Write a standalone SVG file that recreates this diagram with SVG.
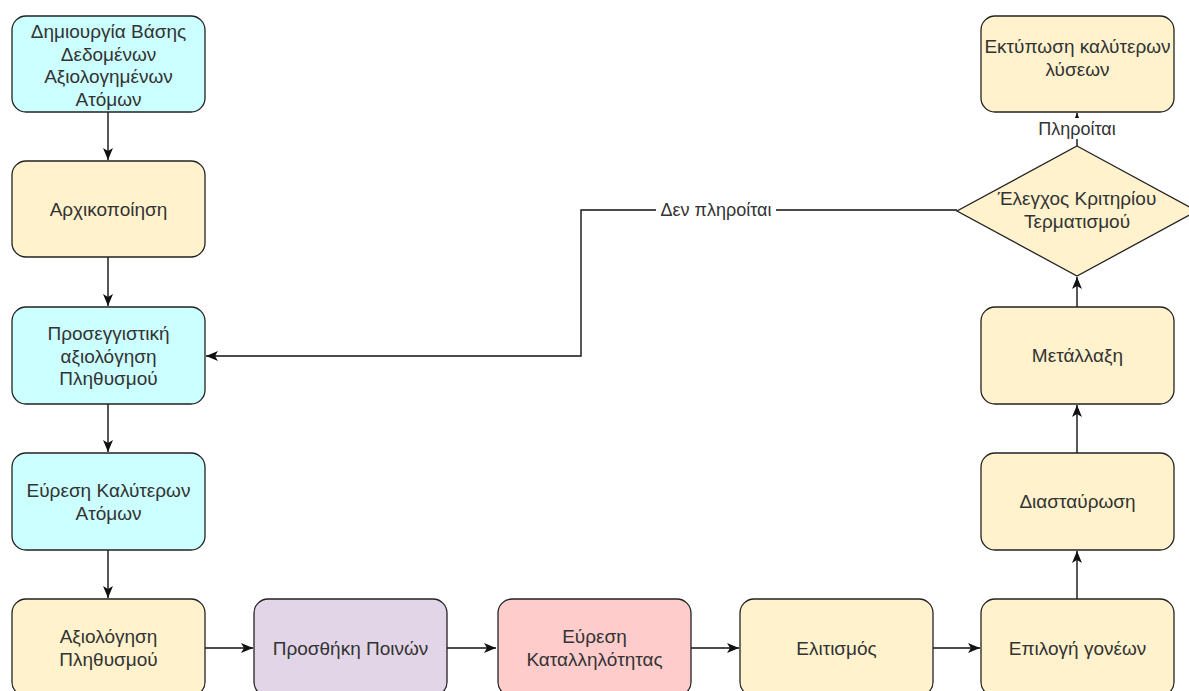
<svg xmlns="http://www.w3.org/2000/svg" width="1189" height="691" viewBox="0 0 1189 691">
  <style>
    .box { stroke: #222; stroke-width: 1.3; }
    .cyan { fill: #ccffff; }
    .yellow { fill: #fff2cc; }
    .purple { fill: #e1d5e7; }
    .pink { fill: #ffcccc; }
    .lbl { font-family: "Liberation Sans", Arial, sans-serif; font-size: 19px; fill: #333333; text-anchor: middle; }
    .elbl { font-family: "Liberation Sans", Arial, sans-serif; font-size: 18px; fill: #333333; text-anchor: middle; }
    .edge { fill: none; stroke: #111; stroke-width: 1.4; }
  </style>
  <defs>
    <marker id="arrow" markerUnits="userSpaceOnUse" markerWidth="14" markerHeight="14" viewBox="0 0 14 14" refX="13" refY="7" orient="auto">
      <path d="M1,2 L13,7 L1,12 L4,7 Z" fill="#111"/>
    </marker>
  </defs>
  <rect width="1189" height="691" fill="#ffffff"/>

  <g id="connectors">
    <path class="edge" d="M108,112 V160" marker-end="url(#arrow)"/>
    <path class="edge" d="M108,257 V306" marker-end="url(#arrow)"/>
    <path class="edge" d="M108,404 V452" marker-end="url(#arrow)"/>
    <path class="edge" d="M108,550 V598" marker-end="url(#arrow)"/>
    <path class="edge" d="M205,648 H253" marker-end="url(#arrow)"/>
    <path class="edge" d="M447,648 H496" marker-end="url(#arrow)"/>
    <path class="edge" d="M691,648 H739" marker-end="url(#arrow)"/>
    <path class="edge" d="M933,648 H980" marker-end="url(#arrow)"/>
    <path class="edge" d="M1077,599 V551" marker-end="url(#arrow)"/>
    <path class="edge" d="M1077,453 V405" marker-end="url(#arrow)"/>
    <path class="edge" d="M1077,307 V277" marker-end="url(#arrow)"/>
    <path class="edge" d="M1077,146 V113" marker-end="url(#arrow)"/>
    <path class="edge" d="M957,210 H581 V356 H206" marker-end="url(#arrow)"/>
    <rect x="1038" y="118" width="78" height="21" fill="#ffffff"/>
    <text class="elbl" x="1077" y="135">Πληροίται</text>
    <rect x="656" y="199" width="120" height="22" fill="#ffffff"/>
    <text class="elbl" x="716" y="216">Δεν πληροίται</text>
  </g>

  <g id="create-db">
    <rect class="box cyan" x="12" y="16" width="193" height="96" rx="14"/>
    <text class="lbl" x="108.5" y="38">Δημιουργία Βάσης</text>
    <text class="lbl" x="108.5" y="60.5">Δεδομένων</text>
    <text class="lbl" x="108.5" y="83">Αξιολογημένων</text>
    <text class="lbl" x="108.5" y="105.5">Ατόμων</text>
  </g>

  <g id="init">
    <rect class="box yellow" x="12" y="161" width="193" height="96" rx="14"/>
    <text class="lbl" x="108.5" y="216">Αρχικοποίηση</text>
  </g>

  <g id="approx-eval">
    <rect class="box cyan" x="12" y="307" width="193" height="97" rx="14"/>
    <text class="lbl" x="108.5" y="340">Προσεγγιστική</text>
    <text class="lbl" x="108.5" y="362.5">αξιολόγηση</text>
    <text class="lbl" x="108.5" y="385">Πληθυσμού</text>
  </g>

  <g id="best-find">
    <rect class="box cyan" x="12" y="453" width="193" height="97" rx="14"/>
    <text class="lbl" x="108.5" y="497">Εύρεση Καλύτερων</text>
    <text class="lbl" x="108.5" y="519.5">Ατόμων</text>
  </g>

  <g id="pop-eval">
    <rect class="box yellow" x="12" y="599" width="193" height="97" rx="14"/>
    <text class="lbl" x="108.5" y="643">Αξιολόγηση</text>
    <text class="lbl" x="108.5" y="665.5">Πληθυσμού</text>
  </g>

  <g id="penalties">
    <rect class="box purple" x="254" y="599" width="193" height="97" rx="14"/>
    <text class="lbl" x="350.5" y="655">Προσθήκη Ποινών</text>
  </g>

  <g id="fitness">
    <rect class="box pink" x="498" y="599" width="193" height="97" rx="14"/>
    <text class="lbl" x="594.5" y="643">Εύρεση</text>
    <text class="lbl" x="594.5" y="665.5">Καταλληλότητας</text>
  </g>

  <g id="elitism">
    <rect class="box yellow" x="740" y="599" width="193" height="97" rx="14"/>
    <text class="lbl" x="836.5" y="655">Ελιτισμός</text>
  </g>

  <g id="parent-select">
    <rect class="box yellow" x="981" y="599" width="193" height="97" rx="14"/>
    <text class="lbl" x="1077.5" y="655">Επιλογή γονέων</text>
  </g>

  <g id="crossover">
    <rect class="box yellow" x="981" y="453" width="193" height="97" rx="14"/>
    <text class="lbl" x="1077.5" y="508">Διασταύρωση</text>
  </g>

  <g id="mutation">
    <rect class="box yellow" x="981" y="307" width="193" height="97" rx="14"/>
    <text class="lbl" x="1077.5" y="362">Μετάλλαξη</text>
  </g>

  <g id="termination-check">
    <path class="box yellow" d="M1077,146 L1197,211 L1077,276 L957,211 Z"/>
    <text class="lbl" x="1077" y="205">Έλεγχος Κριτηρίου</text>
    <text class="lbl" x="1077" y="227.5">Τερματισμού</text>
  </g>

  <g id="print-best">
    <rect class="box yellow" x="981" y="16" width="193" height="96" rx="14"/>
    <text class="lbl" x="1077.5" y="53">Εκτύπωση καλύτερων</text>
    <text class="lbl" x="1077.5" y="75.5">λύσεων</text>
  </g>
</svg>
